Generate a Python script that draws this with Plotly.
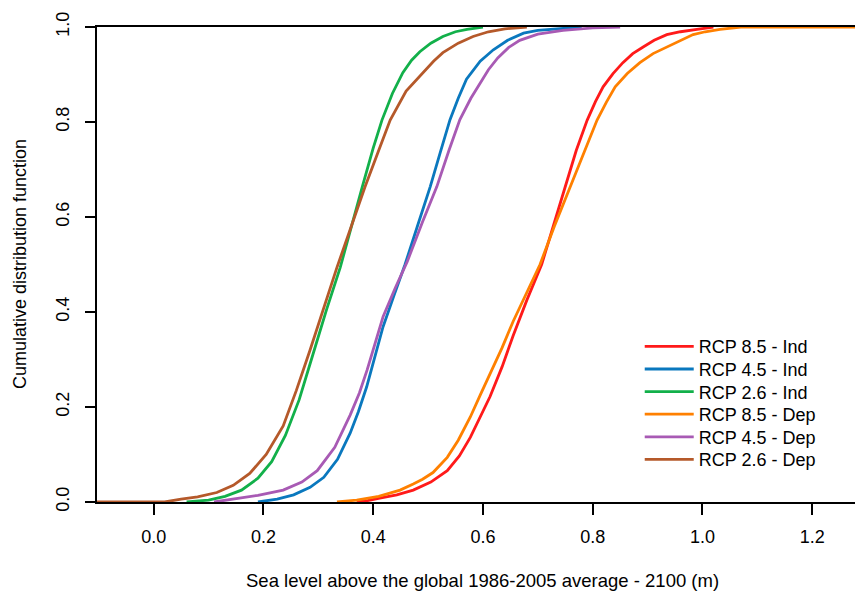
import plotly.graph_objects as go

# ---- data (sea level in m, cumulative probability) ----
names = ["RCP 8.5 - Ind", "RCP 4.5 - Ind", "RCP 2.6 - Ind",
         "RCP 8.5 - Dep", "RCP 4.5 - Dep", "RCP 2.6 - Dep"]
colors = ["#FF1A1A", "#0A78BE", "#12B04A", "#FF8000", "#A85AB4", "#B5592A"]

red_x = [0.37, 0.39, 0.412, 0.443, 0.473, 0.505, 0.535, 0.557, 0.577, 0.595, 0.613, 0.635, 0.655, 0.68, 0.707,
         0.728, 0.750, 0.77, 0.790, 0.805, 0.819, 0.837, 0.855, 0.873, 0.892, 0.912, 0.935, 0.96, 0.99, 1.02]
red_y = [0.0, 0.003, 0.008, 0.015, 0.025, 0.042, 0.066, 0.097, 0.136, 0.178, 0.222, 0.285, 0.35, 0.425, 0.50,
         0.58, 0.663, 0.74, 0.804, 0.843, 0.874, 0.902, 0.925, 0.944, 0.958, 0.972, 0.984, 0.99, 0.995, 1.0]

blue_x = [0.19, 0.225, 0.255, 0.285, 0.31, 0.335, 0.358, 0.373, 0.388, 0.403, 0.418, 0.438, 0.458, 0.481, 0.504,
          0.522, 0.540, 0.555, 0.570, 0.595, 0.619, 0.645, 0.674, 0.70, 0.728, 0.78]
blue_y = [0.0, 0.006, 0.015, 0.031, 0.052, 0.09, 0.145, 0.19, 0.242, 0.305, 0.369, 0.435, 0.50, 0.582, 0.664,
          0.735, 0.805, 0.85, 0.89, 0.928, 0.952, 0.972, 0.987, 0.993, 0.996, 1.0]

green_x = [0.06, 0.10, 0.13, 0.16, 0.19, 0.215, 0.24, 0.265, 0.29, 0.315, 0.34, 0.36, 0.38, 0.40, 0.416,
           0.435, 0.454, 0.47, 0.485, 0.505, 0.527, 0.55, 0.571, 0.60]
green_y = [0.0, 0.004, 0.012, 0.025, 0.05, 0.085, 0.14, 0.215, 0.31, 0.405, 0.494, 0.58, 0.663, 0.745, 0.804,
           0.86, 0.904, 0.93, 0.948, 0.966, 0.98, 0.99, 0.995, 1.0]

orange_x = [0.334, 0.37, 0.41, 0.449, 0.473, 0.49, 0.509, 0.535, 0.555, 0.577, 0.595, 0.613, 0.635, 0.655, 0.68,
            0.704, 0.73, 0.759, 0.785, 0.808, 0.825, 0.841, 0.863, 0.886, 0.91, 0.935, 0.96, 0.983, 1.005,
            1.032, 1.07, 1.30]
orange_y = [0.0, 0.004, 0.012, 0.025, 0.038, 0.048, 0.062, 0.094, 0.13, 0.179, 0.225, 0.27, 0.325, 0.38, 0.44,
            0.50, 0.58, 0.663, 0.74, 0.804, 0.842, 0.874, 0.902, 0.925, 0.944, 0.958, 0.972, 0.984, 0.99,
            0.995, 1.0, 1.0]

purple_x = [0.11, 0.145, 0.19, 0.236, 0.27, 0.298, 0.33, 0.358, 0.375, 0.389, 0.418, 0.44, 0.462, 0.49, 0.516,
            0.538, 0.558, 0.578, 0.595, 0.61, 0.627, 0.647, 0.667, 0.70, 0.746, 0.80, 0.85]
purple_y = [0.0, 0.006, 0.014, 0.025, 0.042, 0.066, 0.115, 0.183, 0.23, 0.278, 0.39, 0.45, 0.506, 0.59, 0.664,
            0.74, 0.805, 0.85, 0.882, 0.91, 0.935, 0.957, 0.972, 0.985, 0.993, 0.998, 1.0]

brown_x = [-0.11, 0.02, 0.05, 0.08, 0.115, 0.145, 0.175, 0.205, 0.236, 0.26, 0.285, 0.31, 0.334, 0.36, 0.385,
           0.41, 0.431, 0.46, 0.491, 0.51, 0.527, 0.555, 0.582, 0.61, 0.64, 0.68]
brown_y = [0.0, 0.0, 0.006, 0.011, 0.02, 0.035, 0.06, 0.1, 0.16, 0.235, 0.32, 0.41, 0.494, 0.58, 0.663,
           0.74, 0.804, 0.865, 0.904, 0.928, 0.946, 0.966, 0.980, 0.99, 0.996, 1.0]

xs = [red_x, blue_x, green_x, orange_x, purple_x, brown_x]
ys = [red_y, blue_y, green_y, orange_y, purple_y, brown_y]

x_ticks = [0.0, 0.2, 0.4, 0.6, 0.8, 1.0, 1.2]
y_ticks = [0.0, 0.2, 0.4, 0.6, 0.8, 1.0]

x_title = "Sea level above the global 1986-2005 average - 2100 (m)"
y_title = "Cumulative distribution function"

FONT = "Liberation Sans, Arial, sans-serif"

fig = go.Figure()
legend_ids = ["legend", "legend2", "legend3", "legend4", "legend5", "legend6"]
for n, c, x, y, lg in zip(names, colors, xs, ys, legend_ids):
    fig.add_trace(go.Scatter(x=x, y=y, mode="lines", name=n, legend=lg,
                             line=dict(color=c, width=2.8)))

# one legend box per row so the row spacing matches the reference
legend_layout = {}
for i, lg in enumerate(legend_ids):
    legend_layout[lg] = dict(
        x=0.716, y=0.327 - i * 0.0476, xanchor="left", yanchor="middle",
        bgcolor="rgba(0,0,0,0)", borderwidth=0, itemwidth=49,
        font=dict(family=FONT, size=18, color="#000000"))

fig.update_layout(
    width=855, height=592,
    margin=dict(l=97, r=0, t=27, b=90, pad=0),
    paper_bgcolor="white", plot_bgcolor="white",
    font=dict(family=FONT, size=18, color="#000000"),
    showlegend=True,
    xaxis=dict(range=[-0.1033, 1.278], tickmode="array", tickvals=x_ticks,
               ticktext=[f"{v:.1f}" for v in x_ticks],
               showline=True, linecolor="black", linewidth=2, mirror=True,
               ticks="outside", ticklen=11, tickwidth=1.5, tickcolor="black",
               showgrid=False, zeroline=False, ticklabelstandoff=6),
    yaxis=dict(range=[0, 1], tickmode="array", tickvals=y_ticks,
               ticktext=[f"{v:.1f}" for v in y_ticks], tickangle=-90,
               showline=True, linecolor="black", linewidth=2,
               ticks="outside", ticklen=10, tickwidth=1.5, tickcolor="black",
               showgrid=False, zeroline=False, ticklabelstandoff=9),
    annotations=[
        dict(text=x_title, xref="paper", yref="paper", x=0.5086, y=-0.165,
             xanchor="center", yanchor="middle", showarrow=False,
             font=dict(family=FONT, size=18.5, color="#000000")),
        dict(text=y_title, xref="paper", yref="paper", x=-0.1022, y=0.5,
             xanchor="center", yanchor="middle", showarrow=False, textangle=-90,
             font=dict(family=FONT, size=18, color="#000000")),
    ],
    **legend_layout,
)

# remove the page's default body margin so the figure fills the window exactly
fig.write_html("out.html",
               config={"displayModeBar": False},
               post_script="document.body.style.margin='0';"
                           "document.body.style.overflow='hidden';")
